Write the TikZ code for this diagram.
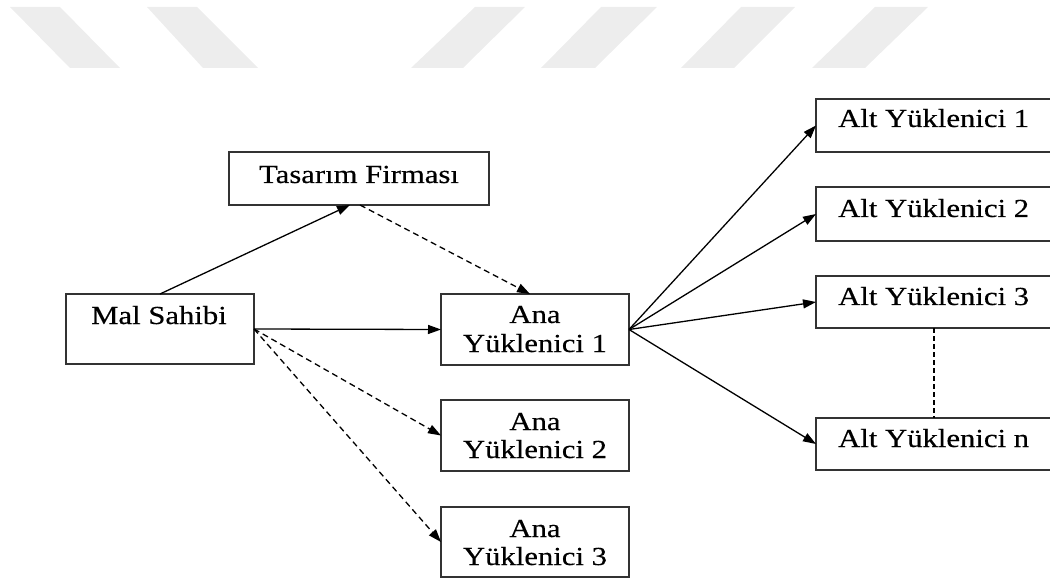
\documentclass[tikz,border=0pt]{standalone}
\usepackage{fontspec}
\setmainfont{Liberation Serif}[FakeStretch=1.18,FakeBold=0.4]
\usetikzlibrary{arrows.meta}
\begin{document}
\begin{tikzpicture}[x=1pt,y=-1pt,
  frame/.style={draw=black!80, line width=1.7pt, inner sep=0pt, outer sep=0pt},
  lbl/.style={font=\fontsize{26}{29}\selectfont, inner sep=0pt, anchor=base},
  link/.style={line width=1.3pt, -{Triangle[length=13pt,width=9pt]}},
  hint/.style={link, dash pattern=on 6pt off 4pt},
  wmark/.style={fill=black!7, draw=none}]
\useasboundingbox (0,0) rectangle (1050,580);
\clip (0,0) rectangle (1050,580);

% faint stripes along the top edge
\foreach \a/\b/\c/\d in {10/60/120/70, 147/197/258/203, 475/525/463/411,
                         601/657/595/541, 741/795/734/681, 875/928/865/812}
  \fill[wmark] (\a,7) -- (\b,7) -- (\c,68) -- (\d,68) -- cycle;

% boxes
\node[frame, minimum width=260pt, minimum height=53pt] (tf) at (359,178.5) {};
\node[frame, minimum width=188pt, minimum height=70pt] (ms) at (160,329) {};
\node[frame, minimum width=188pt, minimum height=71pt] (a1) at (535,329.5) {};
\node[frame, minimum width=188pt, minimum height=71pt] (a2) at (535,435.5) {};
\node[frame, minimum width=188pt, minimum height=70pt] (a3) at (535,542) {};
\node[frame, minimum width=254pt, minimum height=53pt] (s1) at (943,125.5) {};
\node[frame, minimum width=254pt, minimum height=54pt] (s2) at (943,214) {};
\node[frame, minimum width=254pt, minimum height=52pt] (s3) at (943,302) {};
\node[frame, minimum width=254pt, minimum height=52pt] (sn) at (943,444) {};

% texts
\node[lbl] (tft) at (359,183) {Tasarım Firması};
\node[lbl] (mst) at (159,324) {Mal Sahibi};
\node[lbl] (a1a) at (535,323) {Ana};
\node[lbl] (a1b) at (535,352) {Yüklenici 1};
\node[lbl] (a2a) at (535,430) {Ana};
\node[lbl] (a2b) at (535,458) {Yüklenici 2};
\node[lbl] (a3a) at (535,537) {Ana};
\node[lbl] (a3b) at (535,565) {Yüklenici 3};
\node[lbl, anchor=base west] (s1t) at (838,127) {Alt Yüklenici 1};
\node[lbl, anchor=base west] (s2t) at (838,217) {Alt Yüklenici 2};
\node[lbl, anchor=base west] (s3t) at (838,305) {Alt Yüklenici 3};
\node[lbl, anchor=base west] (snt) at (838,447) {Alt Yüklenici n};

% connectors
\draw[link] (ms.north) -- ([xshift=-9pt]tf.south);
\draw[hint] ([xshift=1pt]tf.south) -- ([xshift=-5pt]a1.north);
\draw[link] (ms.east) -- (a1.west);
\draw[hint] (ms.east) -- (a2.west);
\draw[hint] (ms.east) -- (a3.west);
\foreach \t in {s1,s2,s3,sn}
  \draw[link] (a1.east) -- (\t.west);
\coordinate (gap) at (934,0);
\draw[line width=1.3pt, dash pattern=on 5pt off 3pt] (s3.south -| gap) -- (sn.north -| gap);
\end{tikzpicture}
\end{document}
